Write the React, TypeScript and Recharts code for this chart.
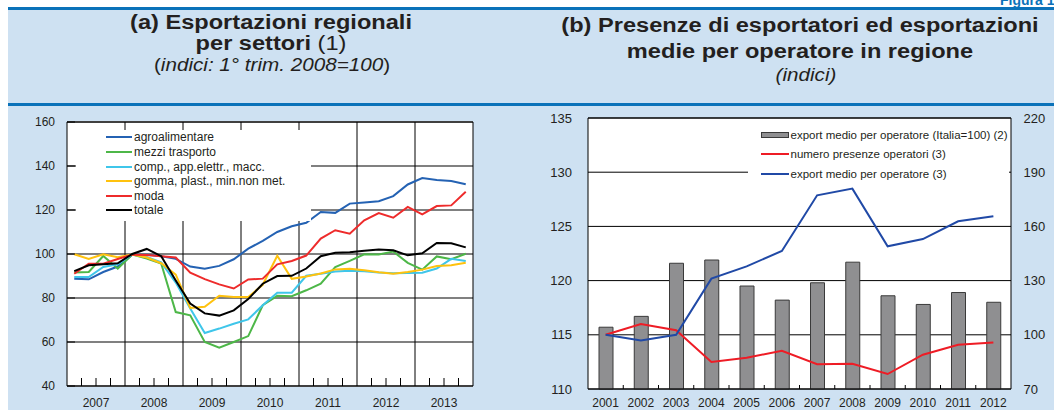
import React from 'react';
import {
  LineChart,
  Line,
  XAxis,
  YAxis,
  CartesianGrid,
  ReferenceLine,
  Legend,
  ComposedChart,
  Bar,
} from 'recharts';

const FONT = '"Liberation Sans", Arial, Helvetica, sans-serif';
const TEXT = '#231f20';
const BLUE = '#0b72b9';
const BG = '#cee1f2';

// ---------- Panel (a): quarterly indices, 1st quarter 2008 = 100 ----------
const yearsA = ['2007', '2008', '2009', '2010', '2011', '2012', '2013'];
const quarterNames = ['T1', 'T2', 'T3', 'T4'];
const quarters = yearsA.flatMap((y) => quarterNames.map((q) => `${q} ${y}`));

const agroalimentare = [88.8, 88.5, 91.8, 94.3, 99.7, 99.7, 99.0, 97.8, 94.3, 93.3, 94.6, 97.6, 102.4, 106.0, 110.0, 112.6, 114.2, 119.1, 118.7, 122.9, 123.4, 124.0, 126.3, 131.6, 134.5, 133.6, 133.2, 131.7];
const mezziTrasporto = [91.6, 91.8, 99.1, 93.4, 99.8, 97.9, 95.6, 73.6, 72.1, 60.0, 57.4, 60.0, 62.7, 76.7, 81.0, 80.8, 83.5, 86.5, 94.1, 96.9, 99.9, 99.8, 101.1, 96.0, 92.9, 98.9, 97.6, 100.1];
const compElettr = [89.5, 89.5, 94.1, 95.3, 99.8, 98.6, 96.2, 87.0, 75.2, 64.1, 66.1, 68.3, 70.3, 76.7, 82.4, 82.4, 90.1, 91.0, 92.0, 92.4, 92.2, 91.6, 91.2, 91.4, 91.5, 93.4, 97.8, 96.8];
const gommaPlast = [99.9, 97.8, 99.9, 98.5, 99.8, 98.4, 95.8, 90.6, 75.5, 76.0, 81.0, 80.5, 80.5, 86.0, 99.2, 88.7, 89.8, 91.1, 93.0, 93.3, 92.6, 91.7, 91.0, 91.8, 92.9, 94.5, 94.9, 96.0];
const moda = [91.0, 95.6, 95.6, 97.7, 99.7, 99.5, 99.0, 98.4, 91.5, 88.6, 86.2, 84.3, 88.4, 88.8, 95.3, 96.8, 99.3, 107.0, 110.8, 109.2, 115.3, 118.6, 116.5, 121.4, 118.0, 121.8, 122.1, 128.3];
const totale = [92.2, 94.9, 95.3, 95.8, 100.0, 102.3, 99.0, 88.0, 77.5, 73.0, 72.0, 74.4, 79.5, 86.5, 90.0, 90.1, 93.4, 99.0, 100.6, 100.8, 101.5, 102.1, 101.7, 99.4, 100.3, 105.0, 104.9, 103.0];

const yTicksA = [40, 60, 80, 100, 120, 140, 160];
const quarterTicks = [1, 2, 3, 5, 6, 7, 9, 10, 11, 13, 14, 15, 17, 18, 19, 21, 22, 23, 25, 26, 27];
const yearBoundaries = [4, 8, 12, 16, 20, 24];

const seriesA = [
  { key: 'agro', name: 'agroalimentare', color: '#2462b3', values: agroalimentare },
  { key: 'mezzi', name: 'mezzi trasporto', color: '#4db748', values: mezziTrasporto },
  { key: 'comp', name: 'comp., app.elettr., macc.', color: '#3fc6ea', values: compElettr },
  { key: 'gomma', name: 'gomma, plast., min.non met.', color: '#ffc20e', values: gommaPlast },
  { key: 'moda', name: 'moda', color: '#ee2b2b', values: moda },
  { key: 'totale', name: 'totale', color: '#000000', values: totale },
];

const dataA = quarters.map((q, i) => {
  const row: Record<string, number | string> = { quarter: q, pos: i + 0.5 };
  seriesA.forEach((s) => {
    row[s.key] = s.values[i];
  });
  return row;
});

// ---------- Panel (b): yearly ----------
const yearsB = ['2001', '2002', '2003', '2004', '2005', '2006', '2007', '2008', '2009', '2010', '2011', '2012'];
const exportMedioItalia = [115.7, 116.7, 121.6, 121.9, 119.5, 118.2, 119.8, 121.7, 118.6, 117.8, 118.9, 118.0];
const numeroPresenze = [100.0, 106.0, 102.5, 85.0, 87.3, 91.2, 83.7, 84.0, 78.3, 89.0, 94.5, 95.8];
const exportMedio = [100.0, 96.9, 100.0, 131.1, 137.9, 146.4, 177.2, 180.9, 149.0, 153.0, 162.8, 165.6];
const yTicksBLeft = [110, 115, 120, 125, 130, 135];
const yTicksBRight = [70, 100, 130, 160, 190, 220];

const dataB = yearsB.map((y, i) => ({
  year: y,
  media: exportMedioItalia[i],
  presenze: numeroPresenze[i],
  export: exportMedio[i],
}));

const seriesB = [
  { key: 'media', name: 'export medio per operatore (Italia=100) (2)', kind: 'bar', color: '#8f8f91', stroke: '#3a3a3a' },
  { key: 'presenze', name: 'numero presenze operatori (3)', kind: 'line', color: '#ee1c25', stroke: '#ee1c25' },
  { key: 'export', name: 'export medio per operatore (3)', kind: 'line', color: '#2049a6', stroke: '#2049a6' },
];

// ---------- tick renderers ----------
const makeYTick = (side: 'left' | 'right', gap: number, fontSize: number, inner: number) => (props: any) => {
  const { x, y, payload } = props;
  const tx = side === 'left' ? x - gap : x + gap;
  const lx = side === 'left' ? x + inner : x - inner;
  return (
    <g>
      {inner > 0 && <line x1={x} x2={lx} y1={y} y2={y} stroke="#000" strokeWidth={1} />}
      <text
        x={tx}
        y={y + fontSize * 0.36}
        textAnchor={side === 'left' ? 'end' : 'start'}
        fontSize={fontSize}
        fontFamily={FONT}
        fill={TEXT}
      >
        {payload.value}
      </text>
    </g>
  );
};

const XTickA = (props: any) => {
  const { x, y, payload } = props;
  const v = payload.value as number;
  const label = v % 4 === 2 ? yearsA[(v - 2) / 4] : null;
  return (
    <g>
      <line x1={x} x2={x} y1={y} y2={y - 8} stroke="#000" strokeWidth={1} />
      {label && (
        <text x={x} y={y + 21} textAnchor="middle" fontSize={12} fontFamily={FONT} fill={TEXT}>
          {label}
        </text>
      )}
    </g>
  );
};

const BAND_B = 423 / yearsB.length;
const XTickB = (props: any) => {
  const { x, y, payload, index } = props;
  return (
    <g>
      {index < yearsB.length - 1 && (
        <line x1={x + BAND_B / 2} x2={x + BAND_B / 2} y1={y} y2={y - 4} stroke="#000" strokeWidth={1} />
      )}
      <text x={x} y={y + 17.5} textAnchor="middle" fontSize={12} fontFamily={FONT} fill={TEXT}>
        {payload.value}
      </text>
    </g>
  );
};

// ---------- legends ----------
const LegendA = () => (
  <div style={{ position: 'relative', width: 235, height: 91, background: '#fff', fontFamily: FONT, fontSize: 12, color: TEXT }}>
    {seriesA.map((s, i) => (
      <div
        key={s.key}
        style={{ position: 'absolute', left: 29.5, top: 7.2 + 14.65 * i - 7, height: 14, display: 'flex', alignItems: 'center', whiteSpace: 'nowrap' }}
      >
        <span style={{ display: 'inline-block', width: 26, height: 2, background: s.color, marginRight: 2.5 }} />
        <span style={{ lineHeight: '14px' }}>{s.name}</span>
      </div>
    ))}
  </div>
);

const LegendB = () => (
  <div style={{ position: 'relative', width: 261, height: 66, background: '#fff', fontFamily: FONT, fontSize: 11.5, color: TEXT }}>
    {seriesB.map((s, i) => (
      <div
        key={s.key}
        style={{ position: 'absolute', left: 12.5, top: [15.7, 35.3, 55.3][i] - 7, height: 14, display: 'flex', alignItems: 'center', whiteSpace: 'nowrap' }}
      >
        {s.kind === 'bar' ? (
          <span style={{ display: 'inline-block', boxSizing: 'border-box', width: 28, height: 6, background: s.color, border: `1px solid ${s.stroke}`, marginRight: 2 }} />
        ) : (
          <span style={{ display: 'inline-block', width: 28, height: 2, background: s.color, marginRight: 2 }} />
        )}
        <span style={{ lineHeight: '14px' }}>{s.name}</span>
      </div>
    ))}
  </div>
);

// ---------- titles ----------
const TitleLine = ({ cx, baseline, size, children, italic, bold, stretch = 1.18 }: any) => (
  <div
    style={{
      position: 'absolute',
      left: cx - 300,
      width: 600,
      top: baseline - 0.8465 * size,
      fontSize: size,
      lineHeight: 1,
      textAlign: 'center',
      fontFamily: FONT,
      fontWeight: bold ? 'bold' : 'normal',
      fontStyle: italic ? 'italic' : 'normal',
      color: TEXT,
      whiteSpace: 'nowrap',
      transform: `scaleX(${stretch})`,
      transformOrigin: 'center',
    }}
  >
    {children}
  </div>
);

export default function App() {
  return (
    <div style={{ position: 'fixed', left: 0, top: 0, width: 1054, height: 410, background: '#fff', overflow: 'hidden', fontFamily: FONT }}>
      <div style={{ position: 'absolute', left: 8, top: 10, width: 1046, height: 400, background: BG }} />
      <div style={{ position: 'absolute', left: 8, top: 7, width: 1046, height: 3, background: BLUE }} />
      <div style={{ position: 'absolute', left: 8, top: 103, width: 1046, height: 2.5, background: BLUE }} />
      <div style={{ position: 'absolute', left: 1000, top: -8, fontSize: 14, lineHeight: '16px', fontWeight: 'bold', color: BLUE, whiteSpace: 'nowrap', fontFamily: FONT }}>
        Figura 1
      </div>

      <TitleLine cx={271} baseline={28.5} size={20} bold>
        (a) Esportazioni regionali
      </TitleLine>
      <TitleLine cx={271} baseline={50} size={20}>
        <b>per settori</b> (1)
      </TitleLine>
      <TitleLine cx={272} baseline={71.5} size={17.5}>
        (<i>indici: 1° trim. 2008=100</i>)
      </TitleLine>

      <TitleLine cx={800} baseline={32} size={20} bold>
        (b) Presenze di esportatori ed esportazioni
      </TitleLine>
      <TitleLine cx={800} baseline={57.5} size={20} bold>
        medie per operatore in regione
      </TitleLine>
      <TitleLine cx={806} baseline={82} size={17.5} italic>
        (indici)
      </TitleLine>

      <div style={{ position: 'absolute', left: 0, top: 0 }}>
        <LineChart width={527} height={410} data={dataA} margin={{ top: 122, right: 0, bottom: 0, left: 0 }}>
          <CartesianGrid vertical={false} stroke="#808080" strokeWidth={2} fill="#ffffff" fillOpacity={1} />
          <XAxis
            dataKey="pos"
            type="number"
            domain={[0, 28]}
            ticks={quarterTicks}
            interval={0}
            height={24}
            tickLine={false}
            tickSize={0}
            tickMargin={0}
            axisLine={{ stroke: '#000', strokeWidth: 1 }}
            tick={XTickA}
          />
          <YAxis
            domain={[40, 160]}
            ticks={yTicksA}
            interval={0}
            width={67}
            tickLine={false}
            tickSize={0}
            tickMargin={0}
            axisLine={{ stroke: '#000', strokeWidth: 1 }}
            tick={makeYTick('left', 12, 12, 8)}
          />
          <YAxis
            yAxisId="r"
            orientation="right"
            domain={[40, 160]}
            ticks={yTicksA}
            interval={0}
            width={54}
            tickLine={false}
            tickSize={0}
            tickMargin={0}
            axisLine={{ stroke: '#000', strokeWidth: 1 }}
            tick={makeYTick('right', 10, 12, 0)}
          />
          {yearBoundaries.map((b) => (
            <ReferenceLine key={b} x={b} stroke="#000" strokeWidth={1} />
          ))}
          <ReferenceLine y={160} stroke="#000" strokeWidth={1} />
          {seriesA.map((s) => (
            <Line
              key={s.key}
              type="linear"
              dataKey={s.key}
              name={s.name}
              stroke={s.color}
              strokeWidth={2}
              dot={false}
              isAnimationActive={false}
            />
          ))}
          <Legend
            layout="vertical"
            align="center"
            verticalAlign="middle"
            wrapperStyle={{ left: 76, top: 130, width: 235, height: 91 }}
            content={() => <LegendA />}
          />
        </LineChart>
      </div>

      <div style={{ position: 'absolute', left: 527, top: 0 }}>
        <ComposedChart width={527} height={410} data={dataB} margin={{ top: 118, right: 0, bottom: 0, left: 0 }}>
          <CartesianGrid vertical={false} stroke="#000" strokeWidth={1} fill="#ffffff" fillOpacity={1} />
          <XAxis
            dataKey="year"
            height={21}
            interval={0}
            tickLine={false}
            tickSize={0}
            tickMargin={0}
            axisLine={{ stroke: '#000', strokeWidth: 1 }}
            tick={XTickB}
          />
          <YAxis
            domain={[110, 135]}
            ticks={yTicksBLeft}
            interval={0}
            width={61}
            tickLine={false}
            tickSize={0}
            tickMargin={0}
            axisLine={{ stroke: '#000', strokeWidth: 1 }}
            tick={makeYTick('left', 16, 13, 0)}
          />
          <YAxis
            yAxisId="r"
            orientation="right"
            domain={[70, 220]}
            ticks={yTicksBRight}
            interval={0}
            width={43}
            tickLine={false}
            tickSize={0}
            tickMargin={0}
            axisLine={{ stroke: '#000', strokeWidth: 1 }}
            tick={makeYTick('right', 12.5, 13, 0)}
          />
          <ReferenceLine y={135} stroke="#000" strokeWidth={1} />
          <Bar dataKey="media" name={seriesB[0].name} barSize={14} fill={seriesB[0].color} stroke={seriesB[0].stroke} strokeWidth={1} isAnimationActive={false} />
          <Line yAxisId="r" type="linear" dataKey="presenze" name={seriesB[1].name} stroke={seriesB[1].color} strokeWidth={2} dot={false} isAnimationActive={false} />
          <Line yAxisId="r" type="linear" dataKey="export" name={seriesB[2].name} stroke={seriesB[2].color} strokeWidth={2} dot={false} isAnimationActive={false} />
          <Legend
            layout="vertical"
            align="center"
            verticalAlign="middle"
            wrapperStyle={{ left: 221, top: 119, width: 261, height: 66 }}
            content={() => <LegendB />}
          />
        </ComposedChart>
      </div>
    </div>
  );
}
